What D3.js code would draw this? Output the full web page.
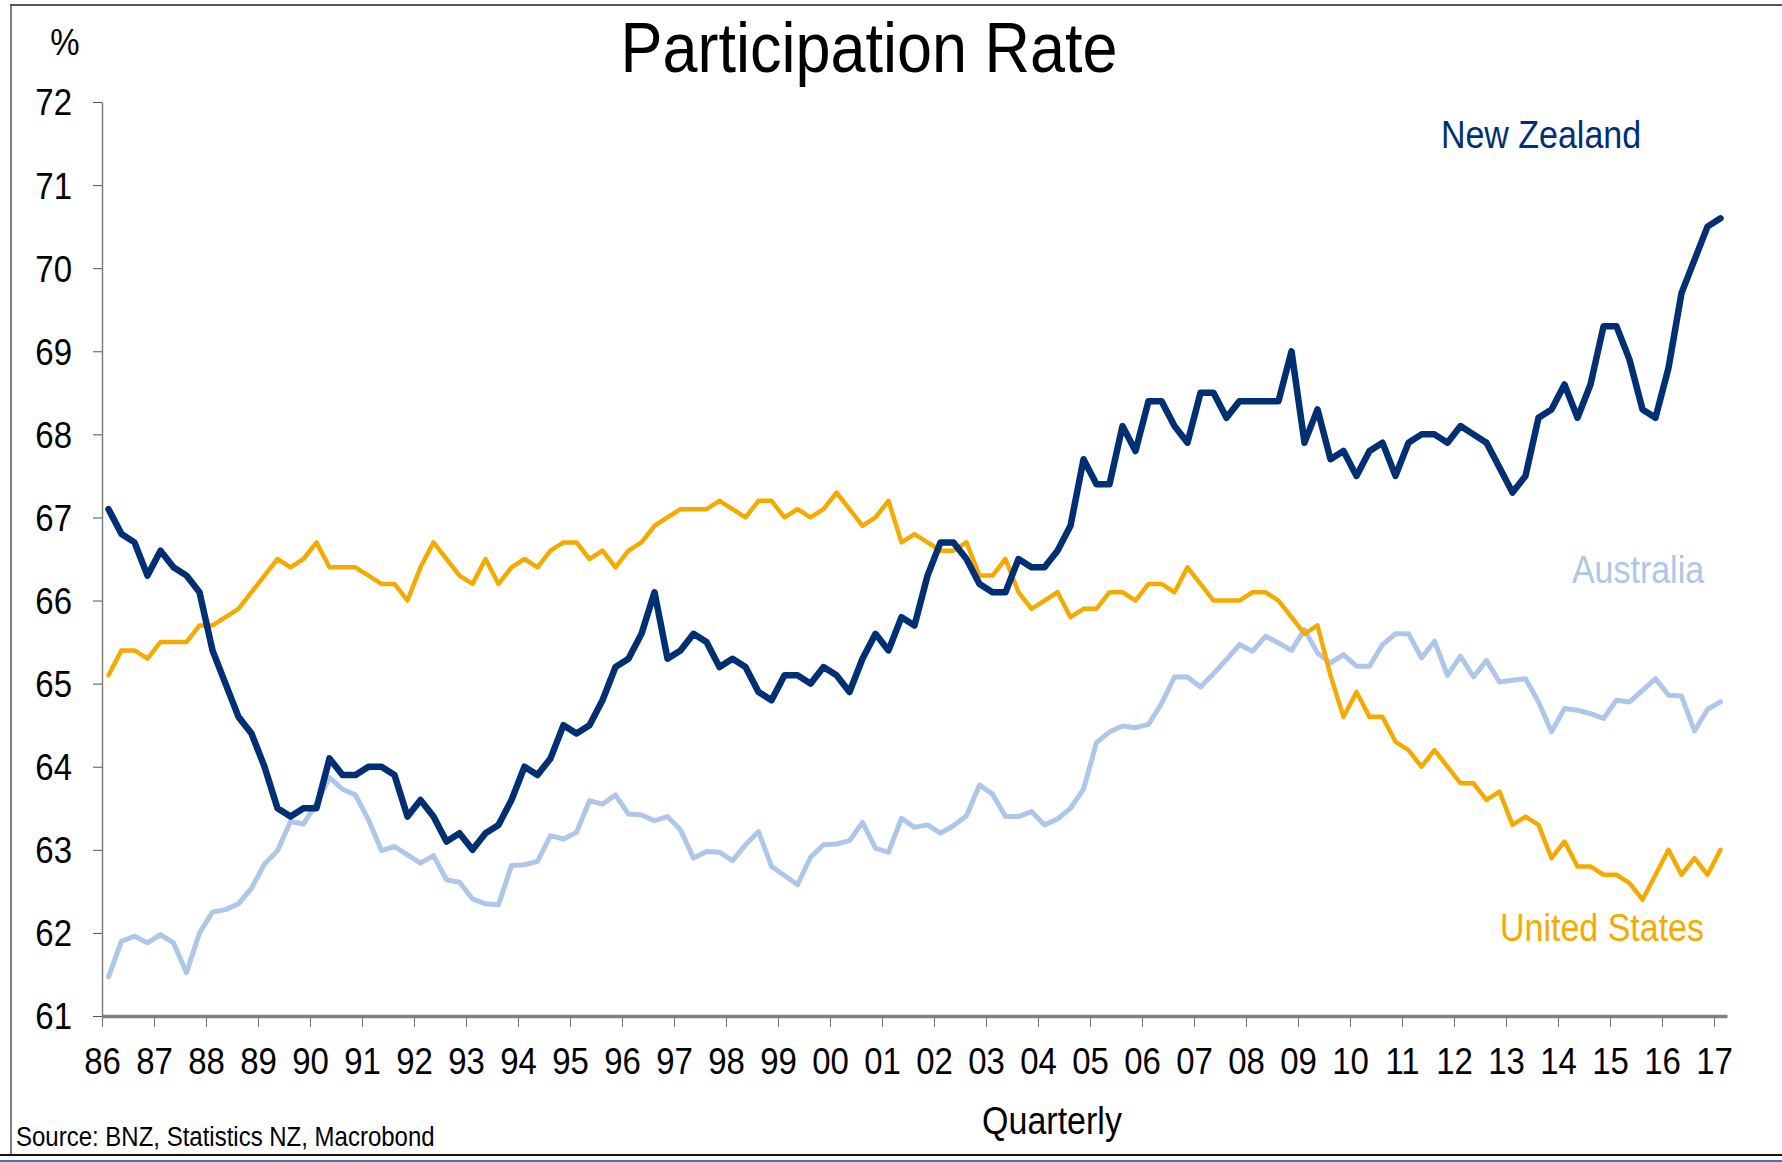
<!DOCTYPE html>
<html lang="en">
  <head>
    <meta charset="UTF-8" />
    <title>Participation Rate</title>
    <style>
      body { margin: 0; background: #fff; }
      svg text { font-family: "Liberation Sans", Arial, sans-serif; }
    </style>
  </head>
  <body>
    <script src="https://cdn.jsdelivr.net/npm/d3@7/dist/d3.min.js"></script>
    <script>
      // quarterly, 1986 Q1 .. 2017 Q1
      var startYear = 1986;
      var yearTicks = d3.range(1986, 2018);
      var yTicks = [61, 62, 63, 64, 65, 66, 67, 68, 69, 70, 71, 72];

      var newZealand = [
        67.1, 66.8, 66.7, 66.3, 66.6, 66.4, 66.3, 66.1,
        65.4, 65.0, 64.6, 64.4, 64.0, 63.5, 63.4, 63.5,
        63.5, 64.1, 63.9, 63.9, 64.0, 64.0, 63.9, 63.4,
        63.6, 63.4, 63.1, 63.2, 63.0, 63.2, 63.3, 63.6,
        64.0, 63.9, 64.1, 64.5, 64.4, 64.5, 64.8, 65.2,
        65.3, 65.6, 66.1, 65.3, 65.4, 65.6, 65.5, 65.2,
        65.3, 65.2, 64.9, 64.8, 65.1, 65.1, 65.0, 65.2,
        65.1, 64.9, 65.3, 65.6, 65.4, 65.8, 65.7, 66.3,
        66.7, 66.7, 66.5, 66.2, 66.1, 66.1, 66.5, 66.4,
        66.4, 66.6, 66.9, 67.7, 67.4, 67.4, 68.1, 67.8,
        68.4, 68.4, 68.1, 67.9, 68.5, 68.5, 68.2, 68.4,
        68.4, 68.4, 68.4, 69.0, 67.9, 68.3, 67.7, 67.8,
        67.5, 67.8, 67.9, 67.5, 67.9, 68.0, 68.0, 67.9,
        68.1, 68.0, 67.9, 67.6, 67.3, 67.5, 68.2, 68.3,
        68.6, 68.2, 68.6, 69.3, 69.3, 68.9, 68.3, 68.2,
        68.8, 69.7, 70.1, 70.5, 70.6
      ];

      var unitedStates = [
        65.1, 65.4, 65.4, 65.3, 65.5, 65.5, 65.5, 65.7,
        65.7, 65.8, 65.9, 66.1, 66.3, 66.5, 66.4, 66.5,
        66.7, 66.4, 66.4, 66.4, 66.3, 66.2, 66.2, 66.0,
        66.4, 66.7, 66.5, 66.3, 66.2, 66.5, 66.2, 66.4,
        66.5, 66.4, 66.6, 66.7, 66.7, 66.5, 66.6, 66.4,
        66.6, 66.7, 66.9, 67.0, 67.1, 67.1, 67.1, 67.2,
        67.1, 67.0, 67.2, 67.2, 67.0, 67.1, 67.0, 67.1,
        67.3, 67.1, 66.9, 67.0, 67.2, 66.7, 66.8, 66.7,
        66.6, 66.6, 66.7, 66.3, 66.3, 66.5, 66.1, 65.9,
        66.0, 66.1, 65.8, 65.9, 65.9, 66.1, 66.1, 66.0,
        66.2, 66.2, 66.1, 66.4, 66.2, 66.0, 66.0, 66.0,
        66.1, 66.1, 66.0, 65.8, 65.6, 65.7, 65.1, 64.6,
        64.9, 64.6, 64.6, 64.3, 64.2, 64.0, 64.2, 64.0,
        63.8, 63.8, 63.6, 63.7, 63.3, 63.4, 63.3, 62.9,
        63.1, 62.8, 62.8, 62.7, 62.7, 62.6, 62.4, 62.7,
        63.0, 62.7, 62.9, 62.7, 63.0
      ];

      var australia = [
        61.47, 61.90, 61.96, 61.88, 61.98, 61.88, 61.52, 62.00,
        62.25, 62.28, 62.35, 62.54, 62.83, 62.99, 63.34, 63.31,
        63.56, 63.87, 63.73, 63.66, 63.36, 62.99, 63.04, 62.94,
        62.84, 62.93, 62.64, 62.61, 62.41, 62.35, 62.34, 62.81,
        62.82, 62.86, 63.17, 63.13, 63.21, 63.59, 63.55, 63.66,
        63.43, 63.42, 63.35, 63.40, 63.24, 62.90, 62.98, 62.97,
        62.87, 63.06, 63.22, 62.80, 62.69, 62.58, 62.91, 63.06,
        63.07, 63.11, 63.33, 63.02, 62.97, 63.38, 63.27, 63.30,
        63.20, 63.29, 63.41, 63.78, 63.67, 63.40, 63.40, 63.46,
        63.30, 63.37, 63.50, 63.73, 64.29, 64.42, 64.49, 64.47,
        64.51, 64.76, 65.08, 65.08, 64.96, 65.12, 65.29, 65.47,
        65.39, 65.57, 65.49, 65.40, 65.65, 65.37, 65.25, 65.35,
        65.21, 65.21, 65.47, 65.60, 65.60, 65.31, 65.51, 65.10,
        65.33, 65.08, 65.28, 65.02, 65.04, 65.06, 64.78, 64.42,
        64.70, 64.68, 64.64, 64.58, 64.80, 64.78, 64.92, 65.06,
        64.86, 64.85, 64.43, 64.69, 64.78
      ];

      var w = 1782,
          h = 1162;

      var margin = {
        top: 102,
        right: 55,
        bottom: 146,
        left: 102
      };

      var stretch = 1.12; // the source picture is a little taller than it is wide

      var svg = d3.select("body").append("svg")
        .attr("width", w)
        .attr("height", h);

      // frame
      svg.append("line")
        .attr("x1", 11).attr("x2", 11).attr("y1", 5).attr("y2", 1155)
        .attr("stroke", "#555").attr("stroke-width", 1.5);
      svg.append("line")
        .attr("x1", 10).attr("x2", w).attr("y1", 5).attr("y2", 5)
        .attr("stroke", "#555").attr("stroke-width", 2);
      svg.append("line")
        .attr("x1", 0).attr("x2", w).attr("y1", 1155).attr("y2", 1155)
        .attr("stroke", "#111").attr("stroke-width", 2);
      svg.append("line")
        .attr("x1", 0).attr("x2", w).attr("y1", 1161).attr("y2", 1161)
        .attr("stroke", "#4a78a6").attr("stroke-width", 2);

      var xScale = d3.scaleLinear()
        .domain([startYear, 2017.25])
        .range([margin.left, w - margin.right]);

      var yScale = d3.scaleLinear()
        .domain([61, 72])
        .range([h - margin.bottom, margin.top]);

      function quarterX(d, i) {
        // points sit in the middle of each quarter
        return xScale(startYear + (i + 0.5) / 4);
      }

      var xAxis = d3.axisBottom(xScale)
        .tickValues(yearTicks)
        .tickSize(11)
        .tickSizeOuter(0)
        .tickFormat(function(d) { return String(d).slice(2); });

      var yAxis = d3.axisLeft(yScale)
        .tickValues(yTicks)
        .tickSize(9)
        .tickSizeOuter(0)
        .tickFormat(d3.format("d"));

      var gx = svg.append("g")
        .attr("transform", "translate(0," + yScale(61) + ")")
        .call(xAxis);
      gx.select(".domain").attr("stroke", "#7f7f7f").attr("stroke-width", 3.5);
      gx.selectAll(".tick line").attr("stroke", "#777").attr("stroke-width", 1);
      gx.selectAll(".tick text")
        .attr("y", 58 / stretch)
        .attr("dy", 0)
        .attr("transform", "scale(1," + stretch + ")")
        .attr("fill", "#000")
        .style("font-size", "33px");

      var gy = svg.append("g")
        .attr("transform", "translate(" + margin.left + ",0)")
        .call(yAxis);
      gy.select(".domain").attr("stroke", "#7f7f7f").attr("stroke-width", 1.5);
      gy.selectAll(".tick line").attr("stroke", "#555").attr("stroke-width", 1);
      gy.selectAll(".tick text")
        .attr("x", -30)
        .attr("dy", "0.35em")
        .attr("transform", "scale(1," + stretch + ")")
        .attr("fill", "#000")
        .style("font-size", "33px");

      var line = d3.line()
        .x(quarterX)
        .y(function(d) { return yScale(d); });

      var series = [
        { name: "Australia", values: australia, color: "#aec6e9", width: 5 },
        { name: "United States", values: unitedStates, color: "#f5aa00", width: 4.5 },
        { name: "New Zealand", values: newZealand, color: "#002f73", width: 6.5 }
      ];

      svg.selectAll("path.data-line")
        .data(series)
        .enter()
        .append("path")
        .attr("class", "data-line")
        .attr("d", function(d) { return line(d.values); })
        .attr("fill", "none")
        .attr("stroke", function(d) { return d.color; })
        .attr("stroke-width", function(d) { return d.width; })
        .attr("stroke-linejoin", "round")
        .attr("stroke-linecap", "round");

      function addText(x, y, str, size, color, anchor) {
        svg.append("text")
          .attr("transform", "translate(" + x + "," + y + ") scale(1," + stretch + ")")
          .attr("text-anchor", anchor || "start")
          .attr("fill", color || "#000")
          .style("font-size", size + "px")
          .text(str);
      }

      addText(869, 72, "Participation Rate", 63, "#000", "middle");
      addText(65, 55, "%", 33, "#000", "middle");
      addText(1541, 148, "New Zealand", 34, "#002f73", "middle");
      addText(1638, 583, "Australia", 34, "#aec6e9", "middle");
      addText(1602, 941, "United States", 34, "#f5aa00", "middle");
      addText(1052, 1134, "Quarterly", 34, "#000", "middle");
      addText(16, 1146, "Source: BNZ, Statistics NZ, Macrobond", 24, "#000", "start");
    </script>
  </body>
</html>
